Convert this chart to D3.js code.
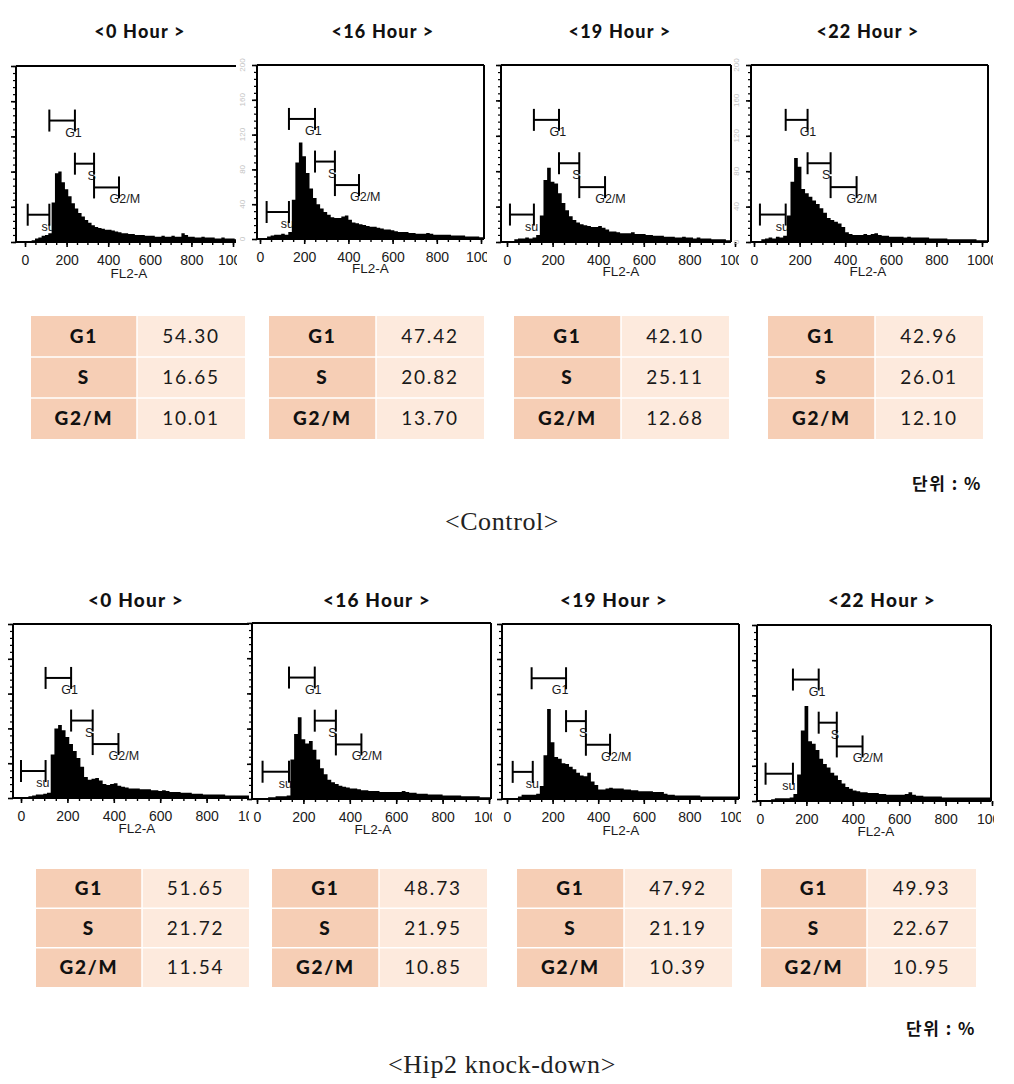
<!DOCTYPE html>
<html><head><meta charset="utf-8">
<script src="https://cdn.jsdelivr.net/npm/d3@7"></script>
<style>body{margin:0;background:#fff}</style>
</head><body><svg id="c" width="1014" height="1084"></svg>
<script>
// ---------------- DATA ----------------
const timepoints = ["<0 Hour >", "<16 Hour >", "<19 Hour >", "<22 Hour >"];
const groupCaptions = ["<Control>", "<Hip2 knock-down>"];
const phases = ["G1", "S", "G2/M"];
const controlPct = [[54.30, 16.65, 10.01], [47.42, 20.82, 13.70], [42.10, 25.11, 12.68], [42.96, 26.01, 12.10]];
const knockdownPct = [[51.65, 21.72, 11.54], [48.73, 21.95, 10.85], [47.92, 21.19, 10.39], [49.93, 22.67, 10.95]];
const unitLabel = "단위 : %";
const xAxisTitle = "FL2-A";
const xTicks = [0, 200, 400, 600, 800, 1000];
const yTicks = [0, 40, 80, 120, 160, 200];
const gateNames = ["su", "G1", "S", "G2/M"];
const gateLevels = [31, 138, 89, 62];
// histogram counts, 16-channel bins from channel 0
const ctrl0h  = [0,0,2,4,5,7,8,10, 45,78,80,68,60,52,44,38, 33,29,25,22,19,17,16,15, 14,14,13,12,11,10,10,9, 9,8,8,8,7,7,7,6, 6,7,6,6,7,6,6,10, 8,6,6,5,5,6,5,5, 5,4,4,5,4,4,4,3];
const ctrl16h = [0,0,3,4,5,5,6,5, 8,45,88,111,95,76,58,47, 40,35,31,28,25,24,24,26, 27,22,19,18,17,16,15,14, 14,13,12,11,11,10,9,8, 8,8,7,7,6,6,6,7, 6,5,5,5,5,5,4,4, 4,4,3,3,3,3,2,2];
const ctrl19h = [0,1,3,4,4,5,4,5, 8,30,70,84,68,66,55,44, 36,29,25,22,20,19,18,17, 17,18,16,14,12,12,11,10, 10,10,11,9,9,9,8,8, 7,7,7,6,6,6,5,5, 6,5,5,4,5,4,4,4, 3,3,3,3,2,2,2,2];
const ctrl22h = [0,0,3,4,5,4,6,5, 7,30,68,95,85,60,55,51, 47,43,38,33,27,25,23,21, 17,11,9,8,8,8,9,8, 9,10,8,7,7,6,6,6, 6,5,6,5,5,5,5,5, 4,4,4,4,4,3,3,3, 3,3,3,3,3,2,2,2];
const kd0h  = [0,1,2,3,4,4,5,6, 50,80,84,78,70,62,54,46, 36,24,21,22,23,20,16,15, 16,17,14,13,12,11,11,11, 10,10,10,9,9,8,9,8, 7,7,7,6,6,6,5,5, 5,4,4,4,4,4,4,3, 3,3,3,3,3,3,2,2];
const kd16h = [0,0,1,2,2,3,3,3, 4,45,74,93,68,63,66,56, 45,35,28,22,19,17,15,14, 13,12,12,11,10,10,9,9, 9,8,8,8,8,8,8,9, 8,7,7,6,6,6,5,5, 5,5,4,4,4,4,4,3, 3,3,3,3,2,2,2,2];
const kd19h = [0,0,1,3,5,5,5,5, 6,15,50,103,65,48,46,41, 40,37,34,30,27,26,30,20, 16,11,11,12,13,12,12,12, 11,11,10,10,9,9,9,9, 8,8,8,6,5,5,4,4, 4,4,4,4,4,3,3,3, 3,3,3,3,3,3,3,3];
const kd22h = [0,0,1,2,3,3,3,3, 4,8,30,80,108,68,65,58, 48,42,38,32,29,24,20,16, 14,12,11,10,10,9,9,9, 8,8,7,7,7,7,7,8, 10,7,6,6,5,5,5,5, 5,4,4,4,4,4,4,4, 4,4,4,4,4,4,3,3];
// gate ranges (channels): sub, G1, S, G2/M
const ctrl0g  = [[13,117],[117,240],[240,332],[332,452]];
const ctrl16g = [[30,131],[131,249],[249,339],[339,448]];
const ctrl19g = [[13,118],[118,228],[228,317],[317,430]];
const ctrl22g = [[26,139],[139,235],[235,336],[336,450]];
const kd0g  = [[0,106],[106,216],[216,309],[309,420]];
const kd16g = [[24,138],[138,249],[249,340],[340,450]];
const kd19g = [[25,113],[108,259],[259,346],[346,452]];
const kd22g = [[24,142],[142,253],[253,331],[331,442]];

// ---------------- LAYOUT ----------------
const binW = 16;
const svg = d3.select("#c");
const histData = [ctrl0h, ctrl16h, ctrl19h, ctrl22h, kd0h, kd16h, kd19h, kd22h];
const gateData = [ctrl0g, ctrl16g, ctrl19g, ctrl22g, kd0g, kd16g, kd19g, kd22g];
const panelLayout = [
  {left:16,  top:66,  right:236, cut:237, base:242, x0:25,  x1:233, border:false, fl:36, ylab:false},
  {left:257, top:65,  right:484, cut:487, base:239, x0:260, x1:481, border:true,  fl:34, ylab:true},
  {left:501, top:65,  right:731, cut:739, base:242, x0:507, x1:735, border:true,  fl:34, ylab:false},
  {left:751, top:65,  right:988, cut:993, base:242, x0:754, x1:982, border:true,  fl:34, ylab:true},
  {left:13,  top:624, right:249, cut:249, base:798, x0:21,  x1:253, border:false, fl:35, ylab:false},
  {left:252, top:623, right:491, cut:492, base:799, x0:257, x1:489, border:true,  fl:35, ylab:false},
  {left:502, top:624, right:739, cut:741, base:799, x0:507, x1:735, border:true,  fl:36, ylab:false},
  {left:757, top:625, right:991, cut:994, base:801, x0:760, x1:992, border:true,  fl:35, ylab:false}
];
const axisFont = "'Liberation Sans', Arial, sans-serif";
const xMinor = d3.range(0, 1001, 50);
const yMinor = d3.range(0, 201, 8);

panelLayout.forEach((L, k) => {
  const x = d3.scaleLinear().domain([0, 1000]).range([L.x0, L.x1]);
  const y = d3.scaleLinear().domain([0, 200]).range([L.base, L.top]);
  const cid = "clip" + k, pid = "plot" + k;
  svg.append("clipPath").attr("id", cid).append("rect")
    .attr("x", L.left - 20).attr("y", L.top - 15)
    .attr("width", L.cut - (L.left - 20)).attr("height", L.base - L.top + 60);
  svg.append("clipPath").attr("id", pid).append("rect")
    .attr("x", L.left).attr("y", L.top)
    .attr("width", L.right - L.left).attr("height", L.base - L.top);
  const g = svg.append("g").attr("clip-path", `url(#${cid})`);

  // gate labels (under histogram)
  const gates = gateData[k];
  gates.forEach((gt, j) => {
    const yy = y(gateLevels[j]);
    g.append("text").attr("x", (x(gt[0]) + x(gt[1])) / 2 + 3).attr("y", yy + 16)
      .attr("font-family", axisFont).attr("font-size", 12.5).attr("fill", "#1a1a1a")
      .text(gateNames[j]);
  });

  // histogram
  const hist = histData[k];
  const pts = hist.map((v, i) => [i * binW, v]).concat([[hist.length * binW, hist[hist.length - 1]]]);
  g.append("path").attr("clip-path", `url(#${pid})`).datum(pts)
    .attr("d", d3.area().x(d => x(d[0])).y0(L.base).y1(d => y(d[1])).curve(d3.curveStepAfter))
    .attr("fill", "#000");

  // gate bars
  gates.forEach((gt, j) => {
    const yy = y(gateLevels[j]);
    const xa = x(gt[0]), xb = x(gt[1]);
    g.append("line").attr("x1", xa).attr("x2", xb).attr("y1", yy).attr("y2", yy)
      .attr("stroke", "#000").attr("stroke-width", 2);
    [xa, xb].forEach(xv => g.append("line").attr("x1", xv).attr("x2", xv)
      .attr("y1", yy - 11).attr("y2", yy + 11).attr("stroke", "#000").attr("stroke-width", 2));
  });

  // x axis
  const ax = g.append("g").attr("transform", `translate(0,${L.base})`)
    .call(d3.axisBottom(x).tickValues(xTicks).tickSize(5).tickPadding(8).tickFormat(d3.format("d")));
  ax.select(".domain").remove();
  ax.attr("font-family", axisFont).attr("font-size", 14);
  ax.selectAll("line").attr("stroke", "#000").attr("stroke-width", 1.6);
  ax.selectAll("text").attr("fill", "#1a1a1a");
  const axm = g.append("g").attr("transform", `translate(0,${L.base})`)
    .call(d3.axisBottom(x).tickValues(xMinor).tickSize(3).tickFormat(""));
  axm.select(".domain").remove();
  axm.selectAll("line").attr("stroke", "#000").attr("stroke-width", 1.4);
  g.append("text").attr("x", x(500)).attr("y", L.base + L.fl)
    .attr("text-anchor", "middle").attr("font-family", axisFont).attr("font-size", 13.5)
    .attr("fill", "#1a1a1a").text(xAxisTitle);

  // y axis
  const ay = g.append("g").attr("transform", `translate(${L.left},0)`)
    .call(d3.axisLeft(y).tickValues(yTicks).tickSize(5).tickFormat(""));
  ay.select(".domain").remove();
  ay.selectAll("line").attr("stroke", "#000").attr("stroke-width", 1.6);
  const aym = g.append("g").attr("transform", `translate(${L.left},0)`)
    .call(d3.axisLeft(y).tickValues(yMinor).tickSize(3).tickFormat(""));
  aym.select(".domain").remove();
  aym.selectAll("line").attr("stroke", "#000").attr("stroke-width", 1.2);
  if (L.ylab) {
    yTicks.forEach(v => g.append("text")
      .attr("transform", `translate(${L.left - 12},${y(v)}) rotate(-90)`)
      .attr("text-anchor", "middle").attr("font-family", axisFont).attr("font-size", 8)
      .attr("fill", "#c4c4c4").text(v));
  }

  // frame
  const fr = g.append("g").attr("stroke", "#000").attr("stroke-width", 2).attr("fill", "none");
  fr.append("line").attr("x1", L.left).attr("x2", L.left).attr("y1", L.top).attr("y2", L.base);
  fr.append("line").attr("x1", L.left).attr("x2", L.right).attr("y1", L.base).attr("y2", L.base);
  fr.append("line").attr("x1", L.left).attr("x2", L.right).attr("y1", L.top).attr("y2", L.top);
  if (L.border) fr.append("line").attr("x1", L.right).attr("x2", L.right).attr("y1", L.top).attr("y2", L.base);
});

// ---------------- TABLES ----------------
const tableLayout = [
  {x:31, y:316, split:137, right:245, bottom:439},
  {x:269, y:316, split:376, right:484, bottom:439},
  {x:514, y:316, split:621, right:729, bottom:439},
  {x:768, y:316, split:875, right:983, bottom:439},
  {x:36, y:869, split:142, right:249, bottom:987},
  {x:272, y:869, split:379, right:487, bottom:987},
  {x:517, y:869, split:624, right:732, bottom:987},
  {x:761, y:869, split:867, right:976, bottom:987}
];
const pctAll = controlPct.concat(knockdownPct);
const tableFont = "Lato, 'Open Sans', sans-serif";
const fmt = d3.format(".2f");
tableLayout.forEach((T, k) => {
  const rows = d3.scaleBand().domain(phases).range([T.y, T.bottom]);
  const tg = svg.append("g");
  phases.forEach((ph, r) => {
    const ry = rows(ph), rh = rows.bandwidth();
    tg.append("rect").attr("x", T.x).attr("y", ry).attr("width", T.split - T.x).attr("height", rh).attr("fill", "#f6ceb5");
    tg.append("rect").attr("x", T.split).attr("y", ry).attr("width", T.right - T.split).attr("height", rh).attr("fill", "#fdeadd");
    tg.append("text").attr("x", (T.x + T.split) / 2).attr("y", ry + rh / 2 + 6.5)
      .attr("text-anchor", "middle").attr("font-family", tableFont).attr("font-weight", 900)
      .attr("font-size", 19).attr("letter-spacing", 1.8).attr("fill", "#111").text(ph);
    tg.append("text").attr("x", (T.split + T.right) / 2).attr("y", ry + rh / 2 + 6.5)
      .attr("text-anchor", "middle").attr("font-family", tableFont)
      .attr("font-size", 19).attr("letter-spacing", 1.8).attr("fill", "#1a1a1a").text(fmt(pctAll[k][r]));
  });
  phases.slice(1).forEach(ph => tg.append("line").attr("x1", T.x).attr("x2", T.right)
    .attr("y1", rows(ph)).attr("y2", rows(ph)).attr("stroke", "#fff").attr("stroke-width", 1.5));
  tg.append("line").attr("x1", T.split).attr("x2", T.split).attr("y1", T.y).attr("y2", T.bottom)
    .attr("stroke", "#fff").attr("stroke-width", 1.5);
});

// ---------------- TITLES / CAPTIONS ----------------
const titleLayout = [
  {x:140, y:38, size:18}, {x:383, y:38, size:18}, {x:620, y:38, size:18}, {x:868, y:38, size:18},
  {x:136, y:607, size:19}, {x:377, y:607, size:19}, {x:614, y:607, size:19}, {x:882, y:607, size:19}
];
titleLayout.forEach((t, k) => svg.append("text").attr("x", t.x).attr("y", t.y)
  .attr("text-anchor", "middle").attr("font-family", tableFont).attr("font-weight", 900)
  .attr("font-size", t.size).attr("letter-spacing", 1.2).attr("fill", "#111")
  .text(timepoints[k % 4]));

[{x:502, y:530}, {x:502, y:1073}].forEach((c, k) => svg.append("text")
  .attr("x", c.x).attr("y", c.y).attr("text-anchor", "middle")
  .attr("font-family", "'Liberation Serif', 'Times New Roman', serif").attr("font-size", 26)
  .attr("letter-spacing", 0.6).attr("fill", "#222").text(groupCaptions[k]));

[{x:912, y:490}, {x:906, y:1035}].forEach(u => svg.append("text")
  .attr("x", u.x).attr("y", u.y).attr("font-family", "'Noto Sans CJK KR', sans-serif")
  .attr("font-size", 17).attr("font-weight", 600).attr("letter-spacing", 1.5).attr("fill", "#111").text(unitLabel));
</script></body></html>
